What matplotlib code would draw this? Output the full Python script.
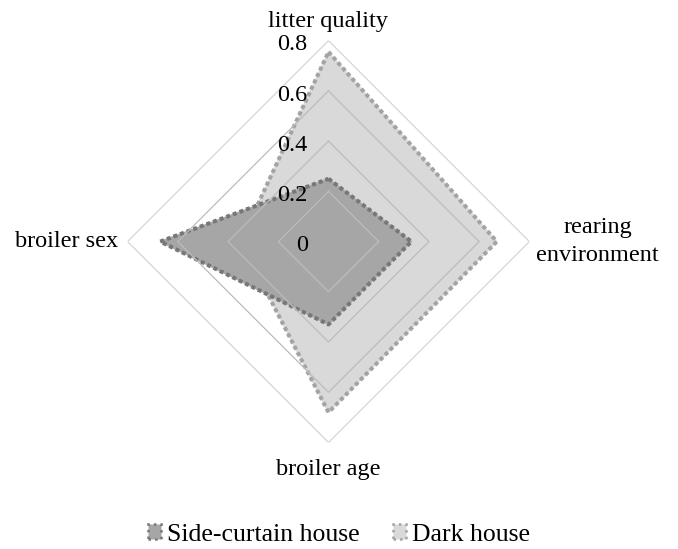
import numpy as np
import matplotlib.pyplot as plt
from matplotlib.patches import Patch

categories = ['litter quality', 'rearing\nenvironment', 'broiler age', 'broiler sex']
side_curtain = [0.25, 0.33, 0.33, 0.67]
dark_house = [0.755, 0.67, 0.68, 0.35]
ticks = [0, 0.2, 0.4, 0.6, 0.8]
series_names = ['Side-curtain house', 'Dark house']

plt.rcParams['font.family'] = ['Liberation Serif', 'DejaVu Serif']
plt.rcParams['font.size'] = 17.5

fig = plt.figure(figsize=(6.78, 5.49), dpi=100)
ax = fig.add_axes([0.188, 0.194, 0.593, 0.732], projection='polar')
ax.set_theta_offset(np.pi / 2)
ax.set_theta_direction(-1)
ax.set_ylim(0, 0.8)
ax.grid(False)
ax.set_xticks([])
ax.set_yticks([])
ax.spines['polar'].set_visible(False)
ax.patch.set_alpha(0)

angles = np.linspace(0, 2 * np.pi, len(categories), endpoint=False)
closed = np.append(angles, angles[0])

fills = ['#d9d9d9', '#a6a6a6']
edges = ['#a3a3a3', '#777777']
data = [dark_house, side_curtain]
for vals, fc, ec, z in zip(data, fills, edges, [2, 3]):
    v = np.append(vals, vals[0])
    ax.fill(closed, v, color=fc, zorder=z)
    ax.plot(closed, v, color=ec, lw=2.9, linestyle=(0, (1, 0.75)), zorder=z + 0.5)

# diamond grid on top
for t in ticks[1:]:
    col = '#d6d6d6' if t == ticks[-1] else '#bcbcbc'
    ax.plot(closed, [t] * len(closed), color=col, lw=0.9, zorder=5)

for t in ticks:
    ax.annotate(f'{t:g}', xy=(0, t), xytext=(-15, -3), textcoords='offset points',
                ha='right', va='center', zorder=6)

offsets = [(0, 6), (5, 0), (0, -12), (-7, 0)]
aligns = [('center', 'bottom'), ('left', 'center'), ('center', 'top'), ('right', 'center')]
for ang, lab, off, (ha, va) in zip(angles, categories, offsets, aligns):
    ax.annotate(lab, xy=(ang, 0.8), xytext=off, textcoords='offset points',
                ha=ha, va=va, multialignment='center', linespacing=1.4,
                annotation_clip=False)

handles = [Patch(facecolor=fills[1], edgecolor=edges[1], linestyle=':', lw=1.8),
           Patch(facecolor=fills[0], edgecolor=edges[0], linestyle=':', lw=1.8)]
fig.legend(handles, series_names, loc='lower center', bbox_to_anchor=(0.5, -0.022),
           ncol=2, frameon=False, fontsize=18.5, handlelength=0.5, handleheight=0.5,
           handletextpad=0.25, columnspacing=1.3, borderpad=0.1)

fig.savefig('out.png', dpi=100)
